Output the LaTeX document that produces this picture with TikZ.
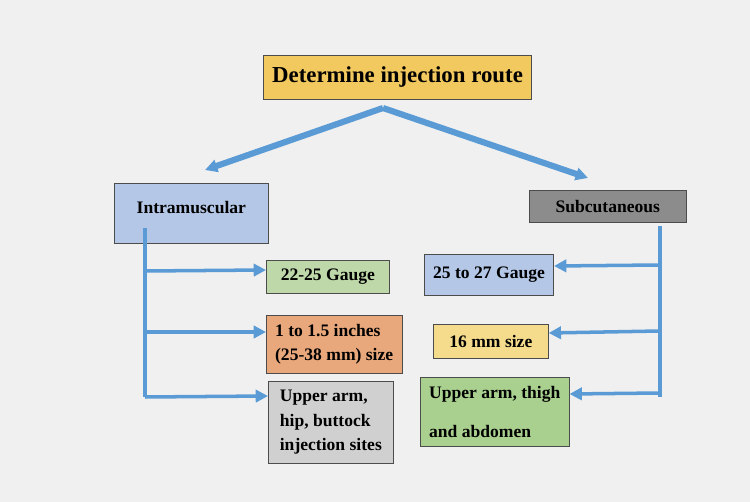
\documentclass[tikz,border=0pt]{standalone}
\usepackage{fontspec}
\setmainfont{Liberation Serif}
\usetikzlibrary{arrows.meta}
\definecolor{bgc}{HTML}{F0F0F0}
\definecolor{arrc}{HTML}{5B9BD5}
\tikzset{
  box/.style={draw=black!70, thin, anchor=north west, font=\bfseries\fontsize{10}{14}\selectfont, align=left, inner sep=5pt},
  link/.style={arrc, line width=2pt, -{Triangle[length=7pt,width=7pt]}},
  bar/.style={arrc, line width=2pt}
}
\begin{document}
\begin{tikzpicture}[x=0.02cm, y=-0.02cm]
  \fill[bgc] (0,0) rectangle (750,502);
  \useasboundingbox (0,0) rectangle (750,502);
  \node[box, fill={rgb,255:red,242;green,201;blue,94}, minimum width=5.28cm, minimum height=0.88cm, font=\bfseries\fontsize{13}{16}\selectfont] (route) at (263,55) {Determine injection route};
  \node[box, fill={rgb,255:red,180;green,199;blue,231}, minimum width=3.08cm, minimum height=0.84cm, anchor=north west, text height=12pt, text depth=12pt] (im) at (114,183) {Intramuscular};
  \node[box, fill={rgb,255:red,140;green,140;blue,140}, minimum width=3.14cm, minimum height=0.64cm] (sc) at (529,190) {Subcutaneous};
  \node[box, fill={rgb,255:red,190;green,216;blue,170}, minimum width=2.46cm, minimum height=0.64cm] (g1) at (266,260) {22-25 Gauge};
  \node[box, fill={rgb,255:red,232;green,168;blue,124}, minimum width=2.6cm, minimum height=1.06cm] (len1) at (266,315) {1 to 1.5 inches\\(25-38 mm) size};
  \node[box, fill={rgb,255:red,208;green,208;blue,208}, minimum width=2.5cm, minimum height=1.3cm] (site1) at (268,381) {Upper arm,\\hip, buttock\\injection sites};
  \node[box, fill={rgb,255:red,180;green,199;blue,231}, minimum width=2.42cm, minimum height=0.82cm] (g2) at (424,254) {25 to 27 Gauge};
  \node[box, fill={rgb,255:red,245;green,220;blue,140}, minimum width=2.3cm, minimum height=0.68cm] (len2) at (433,324) {16 mm size};
  \node[box, fill={rgb,255:red,169;green,208;blue,142}, minimum width=2.76cm, minimum height=1.38cm, font=\bfseries\fontsize{10}{22}\selectfont] (site2) at (420,377) {Upper arm, thigh\\and abdomen};
  % branch points
  \coordinate (top) at (383,108);
  \coordinate (ltop) at (145,228);
  \coordinate (lbot) at (145,397);
  \coordinate (rtop) at (660,226);
  \coordinate (rbot) at (660,397);
  \draw[link, line width=3.5pt] (top) -- (205,170);
  \draw[link, line width=3.5pt] (top) -- (588,178);
  \draw[bar] (ltop) -- (lbot);
  \draw[bar] (rtop) -- (rbot);
  \draw[link] (145,271) -- (g1.west |- 0,270);
  \draw[link] (145,332) -- (len1.west |- 0,332);
  \draw[link] (lbot) -- (site1.west |- 0,396);
  \draw[link] (660,265) -- (g2.east |- 0,266);
  \draw[link] (660,331) -- (len2.east |- 0,333);
  \draw[link] (660,393) -- (site2.east |- 0,394);
\end{tikzpicture}
\end{document}
